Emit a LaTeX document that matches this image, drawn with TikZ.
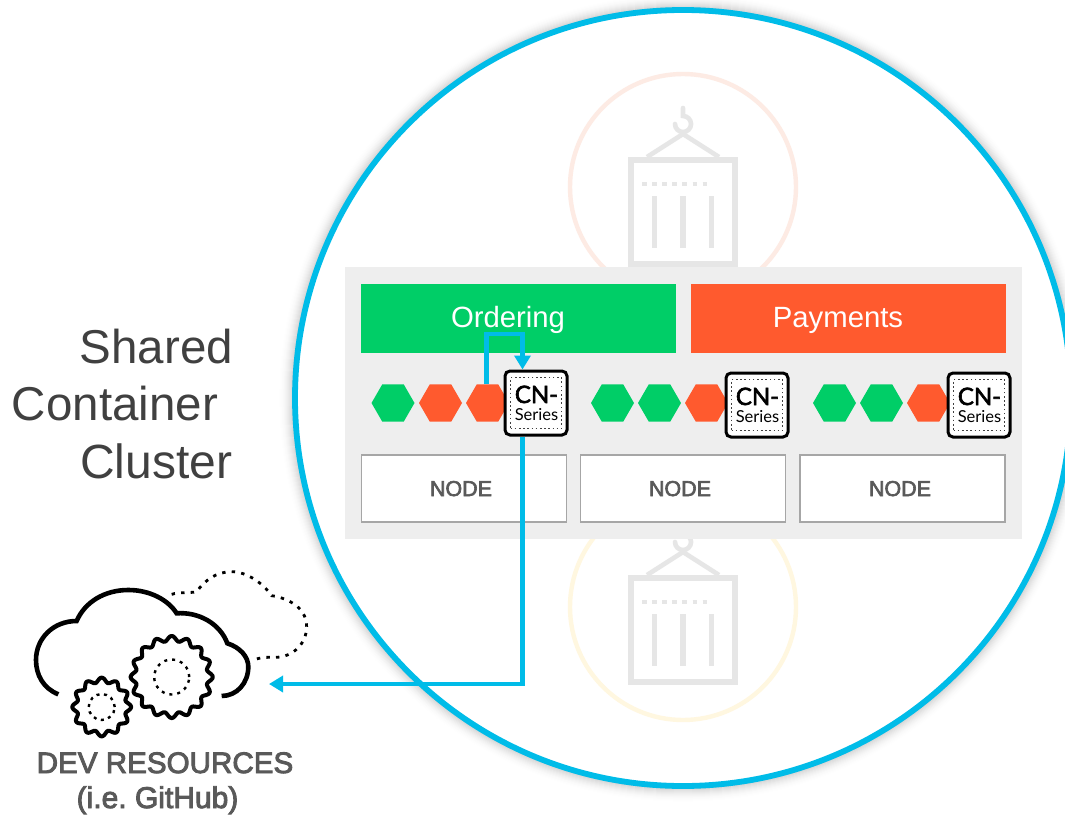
\documentclass[tikz,border=0pt]{standalone}
\usepackage{fontspec}
\setmainfont{Liberation Sans}
\newfontfamily\fbfont[FakeBold=3]{Liberation Sans}
\newfontfamily\latofont{Lato}
\newfontfamily\latobold[FakeBold=2.5]{Lato}
\usetikzlibrary{arrows.meta,shapes.geometric}
\definecolor{ringblue}{HTML}{00BCE8}
\definecolor{okgreen}{HTML}{00CE67}
\definecolor{hotred}{HTML}{FF5A2E}
\definecolor{panelgray}{HTML}{EEEEEE}
\definecolor{ghostgray}{HTML}{E6E6E6}
\definecolor{ghostred}{HTML}{FDEBE4}
\definecolor{ghostyellow}{HTML}{FFF7E0}
\definecolor{textgray}{HTML}{404040}
\definecolor{labelgray}{HTML}{595959}
\tikzset{
  x=1pt,y=-1pt,
  txt/.style={inner sep=0pt,outer sep=0pt,font=\frenchspacing},
  headbox/.style={draw=none,inner sep=0pt,minimum width=315pt,minimum height=69pt},
  nodebox/.style={draw=black!35,line width=1.9pt,fill=white,inner sep=0pt,minimum width=205pt,minimum height=67pt},
  hex/.style={regular polygon,regular polygon sides=6,minimum size=43pt,inner sep=0pt,outer sep=0pt,draw=none},
  hexg/.style={hex,fill=okgreen},
  hexr/.style={hex,fill=hotred},
  cnouter/.style={draw=black,line width=3pt,fill=white,rounded corners=5pt,minimum width=62pt,minimum height=64pt,inner sep=0pt},
  cninner/.style={draw=black!75,line width=1.5pt,dash pattern=on 1.6pt off 2.6pt,minimum width=51pt,minimum height=51pt,inner sep=0pt},
  ghost/.style={draw=ghostgray,line width=5.4pt},
  link/.style={draw=ringblue,line width=4.4pt},
  linkarrow/.style={link,-{Triangle[length=14pt,width=16pt]}},
  cloudline/.style={draw=black,line width=4.6pt,line cap=butt},
  clouddots/.style={draw=black,line width=2.8pt,dash pattern=on 3.4pt off 6.2pt},
}
\newcommand{\cnseries}[3]{%
  \node[cnouter] (#1) at (#2,#3) {};
  \node[cninner] at (#2,#3) {};
  \node[txt,anchor=base] at (#2+0.5,#3) {\latobold\fontsize{24}{25}\selectfont CN-};
  \node[txt,anchor=base] at (#2+0.5,#3+17) {\latofont\fontsize{16.5}{17}\selectfont Series};
}
\newcommand{\ghostcontainer}[1]{%
  \draw[ghost] (631,#1+3) rectangle (735,#1+107);
  \draw[ghostgray,line width=3.8pt,dash pattern=on 4.5pt off 5.6pt] (642,#1+27) -- (708,#1+27);
  \draw[ghost] (654.5,#1+39) -- (654.5,#1+91);
  \draw[ghost] (683,#1+39) -- (683,#1+91);
  \draw[ghost] (711.5,#1+39) -- (711.5,#1+91);
  \draw[ghostgray,line width=4.6pt] (647,#1) -- (683,#1-23) -- (719,#1);
  \draw[ghostgray,line width=4.6pt,line cap=round] (683,#1-49) -- (683,#1-41) arc[start angle=90,end angle=-180,radius=8pt];
}
\begin{document}
\begin{tikzpicture}
\useasboundingbox (0,0) rectangle (1065,814);
\clip (0,0) rectangle (1065,814);
\fill[white] (0,0) rectangle (1065,814);

% soft shadow outside the ring
\foreach \i in {14,13,...,1}{
  \pgfmathsetmacro{\shade}{1.2*(\i)*(\i)/14}
  \pgfmathsetmacro{\rad}{405-\i}
  \draw[black!\shade,line width=1.3pt] (683,398) circle[radius=\rad pt];
}

% ghost background
\draw[ghostred,line width=4.4pt] (683,187) circle[radius=113pt];
\draw[ghostyellow,line width=4.4pt] (683,607) circle[radius=113pt];
\ghostcontainer{157}
\ghostcontainer{575}

% panel
\fill[panelgray] (345,267) rectangle (1022,539);

% big ring
\draw[ringblue,line width=5.8pt] (683,398) circle[radius=388pt];

% heads
\node[headbox,fill=okgreen] (ordering) at (518.5,318.5) {};
\node[headbox,fill=hotred] (payments) at (848.5,318.5) {};
\node[txt,anchor=base,text=white] at (508,327.5) {\fontsize{29.3}{30}\selectfont Ordering};
\node[txt,anchor=base,text=white] at (838,327.5) {\fontsize{29.3}{30}\selectfont Payments};

% hosts
\node[nodebox] (n1) at (464,488.5) {};
\node[nodebox] (n2) at (683,488.5) {};
\node[nodebox] (n3) at (902.5,488.5) {};
\node[txt,anchor=base,text=labelgray] at (461,496) {\fbfont\fontsize{21.5}{22}\selectfont NODE};
\node[txt,anchor=base,text=labelgray] at (680,496) {\fbfont\fontsize{21.5}{22}\selectfont NODE};
\node[txt,anchor=base,text=labelgray] at (900,496) {\fbfont\fontsize{21.5}{22}\selectfont NODE};

% hexagons
\node[hexg] (h11) at (393,403) {};
\node[hexr] (h12) at (440.5,403) {};
\node[hexr] (h13) at (487.5,403) {};
\node[hexg] (h21) at (612.5,403) {};
\node[hexg] (h22) at (659.5,403) {};
\node[hexr] (h23) at (706.5,403) {};
\node[hexg] (h31) at (834.5,403) {};
\node[hexg] (h32) at (881.5,403) {};
\node[hexr] (h33) at (928.5,403) {};

% CN-Series
\cnseries{cn1}{536}{403}
\cnseries{cn2}{757}{405}
\cnseries{cn3}{979}{405}

% connectors
\coordinate (devport) at (269,684);
\draw[linkarrow] (486.5,0 |- h13.north) -- (486.5,334) -- (522.5,334) -- (522.5,0 |- cn1.north);
\draw[linkarrow] (522.5,0 |- cn1.south) -- (522.5,684) -- (devport);

% side title
\node[txt,anchor=base east,text=textgray] at (233,363) {\fontsize{47.5}{48}\selectfont Shared};
\node[txt,anchor=base west,text=textgray] at (12,420) {\fontsize{47.5}{48}\selectfont Container};
\node[txt,anchor=base west,text=textgray] at (80,478) {\fontsize{48}{48}\selectfont Cluster};

% cloud
\begin{scope}[shift={(20,560)},x=0.3333pt,y=-0.3333pt]
\draw[cloudline] (115,403) .. controls (70,385) and (48,345) .. (48,300)
  .. controls (48,235) and (100,183) .. (170,183)
  .. controls (195,125) and (255,90) .. (325,90)
  .. controls (390,90) and (445,120) .. (470,160)
  .. controls (535,155) and (600,190) .. (622,250)
  .. controls (660,262) and (685,290) .. (685,320)
  .. controls (685,370) and (650,408) .. (605,408);
\draw[clouddots] (455,103) .. controls (480,95) and (510,100) .. (530,95)
  .. controls (555,60) and (590,35) .. (635,35)
  .. controls (680,35) and (730,70) .. (755,107)
  .. controls (790,112) and (860,135) .. (860,200)
  .. controls (860,250) and (820,292) .. (765,292)
  .. controls (740,292) and (720,290) .. (700,302);
\end{scope}
% gears
\draw[draw=black,line width=4pt,line join=round] plot[smooth cycle,samples=168,domain=0:357.857,variable=\t] ({171.7+(38.5+2.6*cos(16*\t))*cos(\t)},{677+(38.5+2.6*cos(16*\t))*sin(\t)});
\draw[draw=black,line width=4pt,line join=round] plot[smooth cycle,samples=144,domain=0:357.5,variable=\t] ({101.7+(27+2.4*cos(12*\t))*cos(\t)},{707+(27+2.4*cos(12*\t))*sin(\t)});
\draw[clouddots,line width=2.4pt,dash pattern=on 3pt off 5pt] (171.7,677) circle[radius=17.5pt];
\draw[clouddots,line width=2.4pt,dash pattern=on 3pt off 4.5pt] (101.7,707) circle[radius=13pt];

% label
\node[txt,anchor=base,text=labelgray] at (165,773) {\fbfont\fontsize{29.6}{30}\selectfont DEV RESOURCES};
\node[txt,anchor=base,text=labelgray] at (157.5,808) {\fbfont\fontsize{30}{30}\selectfont (i.e. GitHub)};
\end{tikzpicture}
\end{document}
